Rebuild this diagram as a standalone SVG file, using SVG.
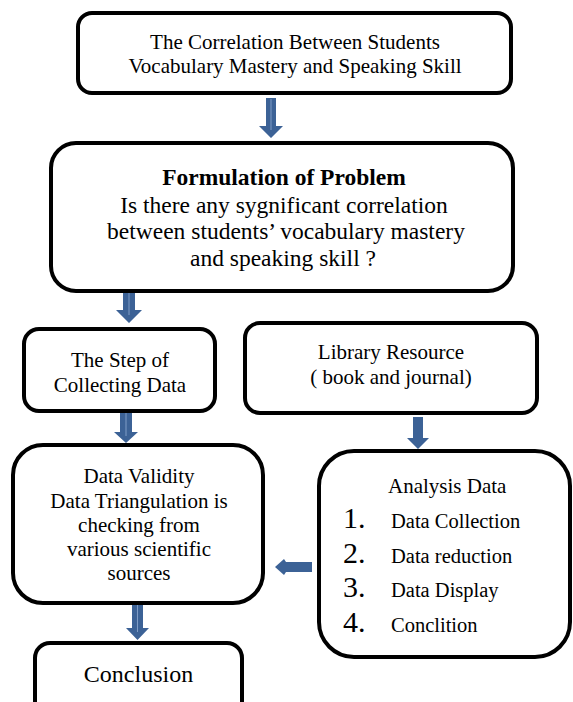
<svg xmlns="http://www.w3.org/2000/svg" width="573" height="702" viewBox="0 0 573 702">
<style>
.box{fill:#fff;stroke:#000;stroke-width:4}
.t{fill:#000;text-anchor:middle}
.l{fill:#000}
.arr{fill:#3c6296}
.hl{stroke:#7f9cc6;stroke-width:1}
</style>
<rect width="573" height="702" fill="#fff"/>
<g id="connectors">
<polygon class="arr" points="266,98 276,98 276,126 283,126 271,138 259,126 266,126"/>
<line class="hl" x1="271" y1="99" x2="271" y2="130"/>
<polygon class="arr" points="123,292 135,292 135,310 142,310 129,323 116,310 123,310"/>
<line class="hl" x1="129" y1="293" x2="129" y2="315"/>
<polygon class="arr" points="120,411 132,411 132,432 138,432 126,443 114,432 120,432"/>
<line class="hl" x1="126" y1="412" x2="126" y2="436"/>
<polygon class="arr" points="413,417 423,417 423,438 429,438 418,449 407,438 413,438"/>
<polygon class="arr" points="132,603 143,603 143,628 149,628 137.5,640 126,628 132,628"/>
<line class="hl" x1="137.5" y1="604" x2="137.5" y2="632"/>
<path class="arr" d="M312,562 L286,562 L284,559 L275,567 L284,575 L286,572 L312,572 Z"/>
</g>
<g font-family="Liberation Serif, DejaVu Serif, serif">
<g id="node-topic">
<rect class="box" x="78" y="13" width="433" height="80" rx="14"/>
<text class="t" font-size="21" x="295" y="49">The Correlation Between Students</text>
<text class="t" font-size="21" x="295" y="73">Vocabulary Mastery and Speaking Skill</text>
</g>
<g id="node-formulation">
<rect class="box" x="51" y="143" width="462" height="148" rx="25"/>
<text class="t" font-size="23.5" font-weight="bold" x="284" y="185">Formulation of Problem</text>
<text class="t" font-size="23.5" x="284" y="213">Is there any sygnificant correlation</text>
<text class="t" font-size="23.5" x="286" y="239">between students’ vocabulary mastery</text>
<text class="t" font-size="23.5" x="283" y="266">and speaking skill ?</text>
</g>
<g id="node-step">
<rect class="box" x="24" y="329" width="191" height="82" rx="15"/>
<text class="t" font-size="21" x="120" y="367">The Step of</text>
<text class="t" font-size="21" x="120" y="392">Collecting Data</text>
</g>
<g id="node-library">
<rect class="box" x="245" y="323" width="292" height="90" rx="15"/>
<text class="t" font-size="21" x="391" y="359">Library Resource</text>
<text class="t" font-size="21" x="391" y="384">( book and journal)</text>
</g>
<g id="node-validity">
<rect class="box" x="13" y="445" width="250" height="158" rx="30"/>
<text class="t" font-size="21" x="139" y="483">Data Validity</text>
<text class="t" font-size="21" x="139" y="508">Data Triangulation is</text>
<text class="t" font-size="21" x="139" y="532">checking from</text>
<text class="t" font-size="21" x="139" y="556">various scientific</text>
<text class="t" font-size="21" x="139" y="580">sources</text>
</g>
<g id="node-analysis">
<rect class="box" x="319" y="451" width="251" height="206" rx="35"/>
<text class="l" font-size="21" x="388" y="493">Analysis Data</text>
<text class="l" font-size="30" x="343" y="528">1.</text>
<text class="l" font-size="20.5" x="391" y="528">Data Collection</text>
<text class="l" font-size="30" x="343" y="563">2.</text>
<text class="l" font-size="20.5" x="391" y="563">Data reduction</text>
<text class="l" font-size="30" x="343" y="597">3.</text>
<text class="l" font-size="20.5" x="391" y="597">Data Display</text>
<text class="l" font-size="30" x="343" y="632">4.</text>
<text class="l" font-size="20.5" x="391" y="632">Conclition</text>
</g>
<g id="node-conclusion">
<rect class="box" x="35" y="643" width="207" height="80" rx="15"/>
<text class="t" font-size="24" x="138.5" y="682">Conclusion</text>
</g>
</g>
</svg>
